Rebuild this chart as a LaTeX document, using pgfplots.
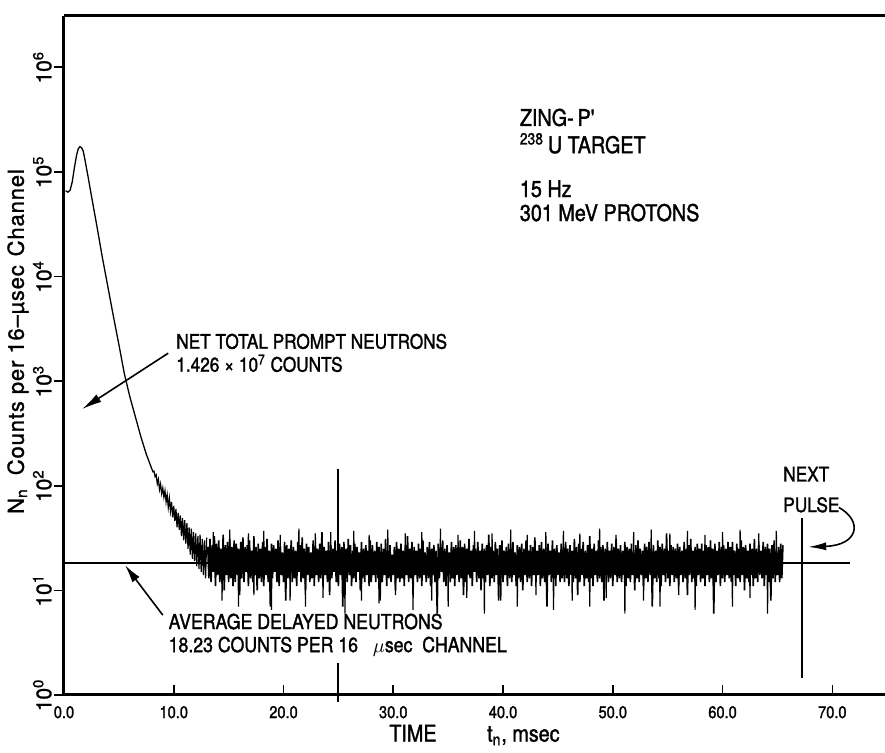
\documentclass[border=0pt]{standalone}
\usepackage{fontspec}
\setmainfont{TeX Gyre Heros}
\newfontfamily\lett{TeX Gyre Heros}[FakeStretch=0.86, FakeBold=1.5]
\newfontfamily\ylab{TeX Gyre Heros}[LetterSpace=4, FakeBold=1.2]
\newfontfamily\tnum{TeX Gyre Heros}[FakeBold=1.2]
\usepackage{pgfplots}
\pgfplotsset{compat=1.18}
\usepackage{pgfplotstable}
\usetikzlibrary{arrows.meta}

% prompt pulse, smooth part (t in msec, counts per channel)
\pgfplotstableread{
t n
0.15 66000
0.35 64000
0.55 66500
0.75 80000
0.95 110000
1.15 145000
1.3 166000
1.45 174000
1.6 170000
1.75 158000
1.9 132000
2.2 89000
2.5 59000
3.0 30200
3.5 15100
4.0 7940
4.5 4170
5.0 2240
5.5 1175
6.0 708
6.5 457
7.0 295
7.5 200
8.0 145
}\prompt

% 8.0 -- 13.0 msec, one channel every 0.1 msec
\pgfplotstableread[row sep=\\]{n\\
145\\136\\138\\122\\127\\104\\115\\92\\104\\84\\
95\\78\\90\\70\\82\\62\\76\\57\\70\\50\\
64\\46\\60\\40\\55\\38\\52\\33\\49\\30\\
47\\28\\44\\25\\40\\22\\39\\20\\36\\19\\
35\\17\\33\\16\\34\\15\\31\\14\\30\\13\\32\\
}\decay

% 13.1 -- 65.5 msec, one channel every 0.1 msec
\pgfplotstableread[row sep=\\]{n\\
26\\13\\31\\12\\27\\15\\33\\11\\28\\14\\30\\12\\25\\13\\34\\10\\27\\14\\29\\12\\31\\13\\26\\11\\30\\
12\\28\\14\\25\\9\\29\\13\\32\\12\\26\\15\\27\\11\\30\\13\\24\\12\\33\\14\\26\\10\\28\\13\\25\\12\\
29\\11\\26\\14\\31\\12\\24\\7\\28\\13\\27\\15\\25\\12\\30\\11\\26\\14\\23\\12\\29\\8\\27\\13\\25\\
14\\30\\12\\26\\13\\24\\11\\29\\15\\27\\12\\32\\13\\25\\10\\28\\14\\26\\12\\23\\13\\30\\11\\27\\14\\
25\\12\\28\\13\\36\\11\\26\\14\\24\\12\\29\\9\\27\\13\\25\\15\\30\\12\\24\\11\\28\\14\\26\\7\\29\\
13\\25\\12\\31\\14\\27\\11\\24\\13\\28\\12\\26\\15\\23\\10\\29\\13\\25\\12\\27\\14\\24\\11\\30\\12\\
27\\14\\24\\12\\29\\13\\26\\8\\28\\12\\25\\14\\31\\11\\24\\13\\27\\12\\22\\14\\26\\10\\29\\13\\25\\
12\\28\\13\\24\\11\\27\\14\\33\\12\\25\\13\\29\\9\\26\\14\\24\\12\\28\\13\\25\\11\\30\\14\\23\\12\\
26\\13\\29\\11\\25\\14\\27\\12\\24\\6\\28\\13\\26\\15\\30\\12\\25\\11\\27\\14\\23\\12\\29\\13\\26\\
11\\27\\14\\24\\12\\30\\13\\26\\9\\28\\12\\25\\14\\31\\13\\24\\11\\27\\15\\25\\12\\29\\13\\24\\10\\
28\\13\\25\\12\\27\\14\\34\\11\\26\\13\\24\\12\\29\\14\\25\\8\\27\\13\\30\\12\\24\\14\\26\\11\\28\\
13\\25\\12\\29\\14\\23\\11\\27\\13\\26\\12\\28\\10\\25\\14\\30\\12\\24\\13\\27\\11\\26\\14\\32\\12\\
24\\14\\27\\11\\29\\13\\25\\12\\26\\7\\28\\14\\24\\12\\30\\13\\25\\11\\27\\14\\23\\12\\28\\13\\26\\
12\\29\\13\\25\\11\\27\\14\\24\\12\\31\\13\\26\\9\\28\\12\\25\\14\\29\\11\\24\\13\\27\\12\\33\\13\\
25\\11\\28\\14\\24\\12\\30\\13\\26\\12\\27\\8\\25\\14\\29\\12\\24\\13\\28\\11\\26\\14\\31\\12\\25\\
13\\27\\12\\24\\14\\29\\11\\26\\13\\25\\12\\28\\14\\23\\10\\27\\13\\30\\12\\25\\14\\24\\11\\28\\13\\
26\\12\\29\\14\\25\\7\\27\\13\\24\\12\\30\\13\\26\\11\\28\\14\\25\\12\\35\\13\\24\\11\\27\\14\\26\\
12\\25\\13\\28\\11\\26\\14\\24\\12\\29\\13\\25\\9\\27\\14\\31\\12\\24\\13\\26\\11\\28\\14\\25\\12\\
28\\13\\24\\11\\27\\14\\26\\12\\30\\13\\25\\6\\28\\12\\24\\14\\29\\11\\26\\13\\27\\12\\25\\14\\29\\
13\\26\\12\\29\\14\\24\\11\\28\\13\\25\\12\\30\\14\\26\\10\\27\\13\\24\\12\\28\\14\\25\\11\\31\\13\\
25\\12\\27\\14\\24\\13\\29\\11\\26\\14\\28\\12\\25\\8\\27\\13\\30\\12\\24\\14\\26\\12\\28\\13\\27\\
}\tail

% single-channel excursions above and below the band (t, counts)
\pgfplotstableread{
t n
13.56 18
13.6 36
13.64 18
14.36 18
14.4 8
14.44 18
15.06 18
15.1 38
15.14 18
15.86 18
15.9 7
15.94 18
16.76 18
16.8 35
16.84 18
17.26 18
17.3 9
17.34 18
18.16 18
18.2 37
18.24 18
18.86 18
18.9 6.5
18.94 18
19.66 18
19.7 34
19.74 18
20.56 18
20.6 8
20.64 18
21.36 18
21.4 39
21.44 18
21.96 18
22.0 7
22.04 18
22.86 18
22.9 35
22.94 18
23.56 18
23.6 8.5
23.64 18
24.26 18
24.3 36
24.34 18
25.56 18
25.6 6
25.64 18
26.36 18
26.4 37
26.44 18
27.06 18
27.1 8
27.14 18
27.76 18
27.8 34
27.84 18
28.66 18
28.7 7.5
28.74 18
29.46 18
29.5 38
29.54 18
30.16 18
30.2 9
30.24 18
31.06 18
31.1 35
31.14 18
31.76 18
31.8 6.5
31.84 18
32.56 18
32.6 36
32.64 18
33.46 18
33.5 8
33.54 18
34.26 18
34.3 39
34.34 18
34.96 18
35.0 7
35.04 18
35.86 18
35.9 34
35.94 18
36.66 18
36.7 8.5
36.74 18
37.36 18
37.4 37
37.44 18
38.26 18
38.3 6
38.34 18
38.96 18
39.0 35
39.04 18
39.76 18
39.8 8
39.84 18
40.66 18
40.7 38
40.74 18
41.26 18
41.3 7
41.34 18
42.16 18
42.2 34
42.24 18
42.96 18
43.0 9
43.04 18
43.86 18
43.9 36
43.94 18
44.56 18
44.6 6.5
44.64 18
45.46 18
45.5 37
45.54 18
46.26 18
46.3 8
46.34 18
46.96 18
47.0 35
47.04 18
47.86 18
47.9 7
47.94 18
48.76 18
48.8 39
48.84 18
49.36 18
49.4 8.5
49.44 18
50.26 18
50.3 34
50.34 18
51.06 18
51.1 6
51.14 18
51.86 18
51.9 36
51.94 18
52.76 18
52.8 8
52.84 18
53.46 18
53.5 38
53.54 18
54.26 18
54.3 7
54.34 18
55.16 18
55.2 35
55.24 18
55.96 18
56.0 9
56.04 18
56.76 18
56.8 37
56.84 18
57.46 18
57.5 6.5
57.54 18
58.36 18
58.4 34
58.44 18
59.16 18
59.2 8
59.24 18
59.96 18
60.0 36
60.04 18
60.86 18
60.9 7
60.94 18
61.56 18
61.6 38
61.64 18
62.46 18
62.5 8.5
62.54 18
63.26 18
63.3 35
63.34 18
64.06 18
64.1 6
64.14 18
64.86 18
64.9 37
64.94 18
}\spikes

\begin{document}
\begin{tikzpicture}
\begin{axis}[name=ax,
    scale only axis, width=410.5pt, height=339.5pt,
    xmin=0, xmax=74.8,
    ymode=log, log basis y=10, ymin=1, ymax=3.09e6,
    axis y line*=left,
    xtick pos=left, ytick pos=left,
    xtick align=inside, ytick align=outside,
    major tick length=5pt, minor tick length=2.5pt,
    axis line style={line width=1.5pt},
    every tick/.style={black, line width=0.8pt},
    xtick={0,10,...,70},
    xticklabels={0.0,10.0,20.0,30.0,40.0,50.0,60.0,70.0},
    xticklabel style={font=\lett\fontsize{8.5}{9}\selectfont, yshift=-2pt},
    ytick={1,10,100,1000,10000,100000,1000000},
    yticklabels={10\textsuperscript{0},10\textsuperscript{1},10\textsuperscript{2},
        10\textsuperscript{3},10\textsuperscript{4},10\textsuperscript{5},10\textsuperscript{6}},
    yticklabel style={rotate=90, anchor=south, inner sep=1pt,
        font=\tnum\fontsize{10.5}{11}\selectfont},
    xlabel={TIME\hspace{2.2em}t\textsubscript{n}, msec},
    xlabel style={at={(axis description cs:0.5,0)}, anchor=center, yshift=-20pt,
        font=\lett\fontsize{11.5}{12}\selectfont},
    ylabel={N\textsubscript{n}\hspace{0.6em}Counts per 16–µsec\hspace{0.4em}Channel},
    ylabel style={at={(axis description cs:0,0.5)}, anchor=center,
        xshift=7pt, yshift=23pt,
        font=\ylab\fontsize{11}{12}\selectfont},
    clip=false,
]
% average delayed level, drawn under the data
\addplot[black, line width=1pt] coordinates {(0,18.23) (71.6,18.23)};
% marker at 25 msec
\addplot[black, line width=1pt] coordinates {(25,145) (25,14)};
\addplot[black, line width=1pt] coordinates {(25,2.02) (25,0.86)};
% next pulse
\addplot[black, line width=1pt] coordinates {(67.2,49) (67.2,1.45)};
% measured spectrum
\addplot[black, line width=0.65pt] table[x=t, y=n] {\prompt};
\addplot[black, line width=0.6pt] table[x expr={8.0+0.1*\coordindex}, y=n] {\decay};
\addplot[black, line width=0.8pt] table[x expr={13.1+0.1*\coordindex}, y=n] {\tail};
\addplot[black, line width=0.6pt] table[x=t, y=n] {\spikes};

% annotations
\begin{scope}[every node/.style={inner sep=0pt, anchor=base west}]
\node[font=\lett\fontsize{11.5}{12}\selectfont] at (axis cs:41.5,2.75e5) {ZING-\,P'};
\node[font=\lett\fontsize{11.5}{12}\selectfont] at (axis cs:41.5,1.51e5) {\textsuperscript{238}\,U TARGET};
\node[font=\lett\fontsize{11.5}{12}\selectfont] at (axis cs:41.5,5.75e4) {15 Hz};
\node[font=\lett\fontsize{11.5}{12}\selectfont] at (axis cs:41.5,3.39e4) {301 MeV PROTONS};
\node[font=\lett\fontsize{10}{11}\selectfont] at (axis cs:10.2,2040) {NET TOTAL PROMPT NEUTRONS};
\node[font=\lett\fontsize{10}{11}\selectfont] at (axis cs:10.2,1230) {1.426 × 10\textsuperscript{7} COUNTS};
\node[font=\lett\fontsize{10.3}{11}\selectfont] at (axis cs:9.5,4.27) {AVERAGE DELAYED NEUTRONS};
\node[font=\lett\fontsize{10.3}{11}\selectfont] at (axis cs:9.5,2.57)
    {18.23\ COUNTS\ PER\ 16\ \ \ $\mu$sec\ \ CHANNEL};
\node[font=\lett\fontsize{10}{11}\selectfont] at (axis cs:65.5,110) {NEXT};
\node[font=\lett\fontsize{10}{11}\selectfont] at (axis cs:65.5,56) {PULSE};
\end{scope}
\draw[-{Latex[length=10pt,width=4.5pt]}, line width=0.8pt]
    (axis cs:9.5,1850) -- (axis cs:1.64,540);
\draw[-{Latex[length=9pt,width=4.5pt]}, line width=0.8pt]
    (axis cs:9.0,5.8) -- (axis cs:5.56,17.4);
\draw[-{Latex[length=9pt,width=4pt]}, line width=0.8pt]
    (axis cs:70.6,62) .. controls (axis cs:72.8,46) and (axis cs:72.4,27) .. (axis cs:67.8,26);
\end{axis}
\pgfresetboundingbox
\path[use as bounding box] ([shift={(-32pt,-29pt)}]ax.south west)
    rectangle ([shift={(0pt,8pt)}]ax.north east);
\end{tikzpicture}
\end{document}
